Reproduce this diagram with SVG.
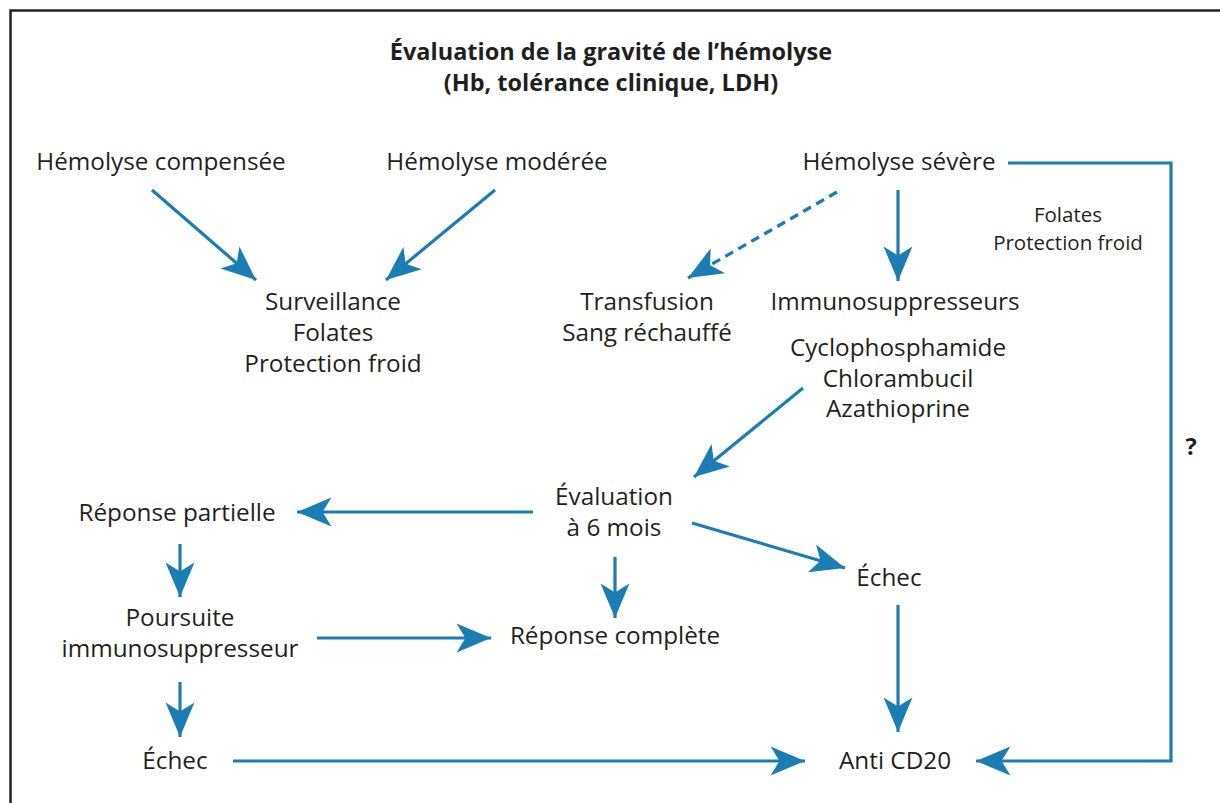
<svg xmlns="http://www.w3.org/2000/svg" width="1220" height="803" viewBox="0 0 1220 803">
<style>
text{font-family:"Open Sans","Noto Sans",sans-serif;fill:#1f1f1f;text-anchor:middle;font-size:24.3px}
.t{font-weight:bold;font-size:23.5px}
.s{font-size:20.5px}
.c{fill:none;stroke:#1a7db3;stroke-width:3.2}
.d{stroke-dasharray:9 6}
</style>
<defs>
<marker id="ah" markerUnits="userSpaceOnUse" markerWidth="40" markerHeight="40" viewBox="-34 -15 36 30" refX="0" refY="0" orient="auto">
<path d="M0,0 L-31,-13 L-23,0 L-31,13 Z" fill="#1a7db3"/>
</marker>
</defs>
<rect width="1220" height="803" fill="#fff"/>
<path d="M10.5,803 V10.5 H1220" fill="none" stroke="#222" stroke-width="2.5"/>
<g id="title"><text class="t" x="611" y="60">Évaluation de la gravité de l’hémolyse</text><text class="t" x="611" y="91">(Hb, tolérance clinique, LDH)</text></g>
<g id="n-compensee"><text x="161" y="170">Hémolyse compensée</text></g>
<g id="n-moderee"><text x="497" y="170">Hémolyse modérée</text></g>
<g id="n-severe"><text x="899" y="170">Hémolyse sévère</text></g>
<g id="n-folates-r"><text class="s" x="1068" y="222">Folates</text><text class="s" x="1068" y="250">Protection froid</text></g>
<g id="n-surveillance"><text x="333" y="310">Surveillance</text><text x="333" y="341">Folates</text><text x="333" y="372">Protection froid</text></g>
<g id="n-transfusion"><text x="647" y="310">Transfusion</text><text x="647" y="341">Sang réchauffé</text></g>
<g id="n-immuno"><text x="895" y="310">Immunosuppresseurs</text><text x="898" y="356">Cyclophosphamide</text><text x="898" y="387">Chlorambucil</text><text x="898" y="417">Azathioprine</text></g>
<g id="n-q"><text class="t" x="1191" y="455">?</text></g>
<g id="n-eval"><text x="614" y="505">Évaluation</text><text x="614" y="536">à 6 mois</text></g>
<g id="n-partielle"><text x="177" y="521">Réponse partielle</text></g>
<g id="n-echec1"><text x="889" y="586">Échec</text></g>
<g id="n-poursuite"><text x="180" y="626">Poursuite</text><text x="180" y="657">immunosuppresseur</text></g>
<g id="n-complete"><text x="615" y="644">Réponse complète</text></g>
<g id="n-echec2"><text x="175" y="769">Échec</text></g>
<g id="n-anti"><text x="895" y="769">Anti CD20</text></g>
<g id="connectors">
<path class="c" d="M152,190 L256,280" marker-end="url(#ah)"/>
<path class="c" d="M495,190 L386,280" marker-end="url(#ah)"/>
<path class="c d" d="M837,192 L688,278" marker-end="url(#ah)"/>
<path class="c" d="M898,190 V281" marker-end="url(#ah)"/>
<path class="c" d="M1008,163 H1171 V761 H976" marker-end="url(#ah)"/>
<path class="c" d="M803,388 L694,477" marker-end="url(#ah)"/>
<path class="c" d="M533,512 H297" marker-end="url(#ah)"/>
<path class="c" d="M615,557 V618" marker-end="url(#ah)"/>
<path class="c" d="M692,523 L845,568" marker-end="url(#ah)"/>
<path class="c" d="M898,605 V732" marker-end="url(#ah)"/>
<path class="c" d="M180,544 V597" marker-end="url(#ah)"/>
<path class="c" d="M317,638 H491" marker-end="url(#ah)"/>
<path class="c" d="M180,682 V737" marker-end="url(#ah)"/>
<path class="c" d="M233,761 H805" marker-end="url(#ah)"/>
</g>
</svg>
